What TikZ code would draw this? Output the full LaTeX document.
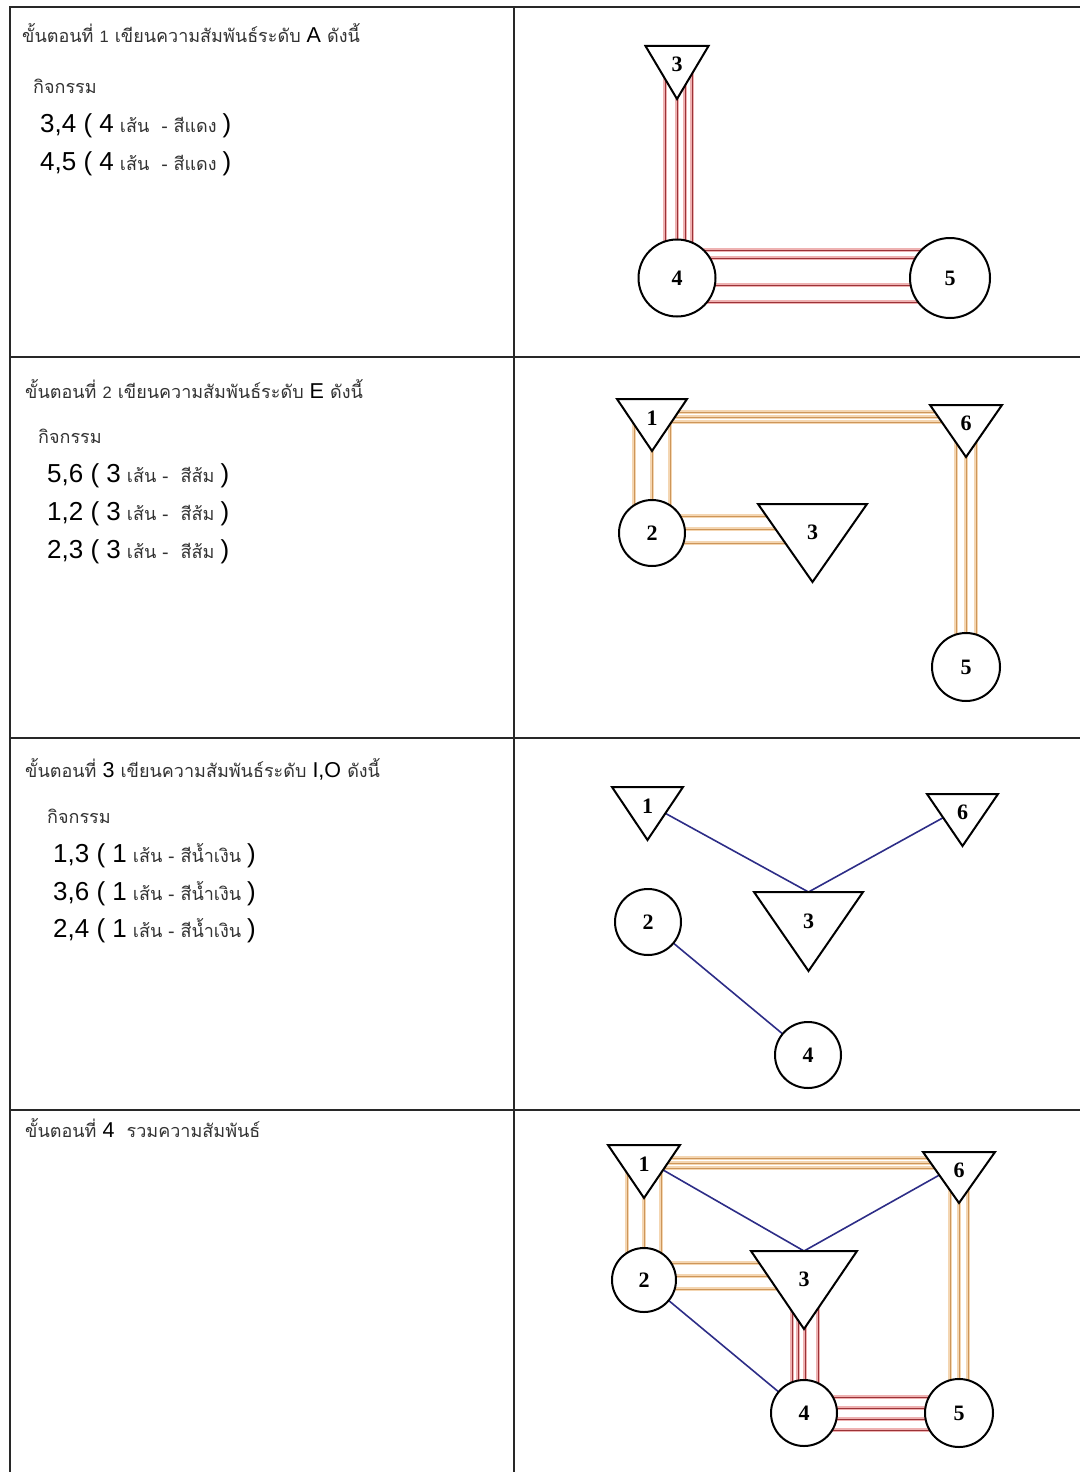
\documentclass[tikz,border=0pt]{standalone}
\usepackage{fontspec}
\setmainfont{Liberation Sans}
\newfontfamily\thaifont[Script=Thai]{Loma}
\newfontfamily\lblfamily{Liberation Serif}
\usetikzlibrary{calc}
\pgfdeclarelayer{bg}
\pgfdeclarelayer{tri}
\pgfsetlayers{bg,tri,main}
\definecolor{redcore}{RGB}{155,50,55}
\definecolor{redhalo}{RGB}{238,178,178}
\definecolor{orcore}{RGB}{205,150,90}
\definecolor{orhalo}{RGB}{244,214,178}
\definecolor{bluel}{RGB}{45,45,135}
\definecolor{framec}{RGB}{40,40,40}
\definecolor{thaic}{RGB}{50,50,50}
\newcommand\thf{\thaifont\fontsize{18}{21}\selectfont\color{thaic}}
\newcommand\lats{\normalfont\fontsize{16.5}{20}\selectfont}
\newcommand\latm{\normalfont\fontsize{21.5}{25}\selectfont\color{black}}
\newcommand\latb{\normalfont\fontsize{26}{30}\selectfont\color{black}}
\newcommand\lblf{\lblfamily\bfseries\fontsize{22}{22}\selectfont}
\newcommand\trishape[1]{\draw[triline] (#1.north west) -- (#1.north east) -- (#1.south) -- cycle;}
\begin{document}
\begin{tikzpicture}[x=1pt,y=-1pt,
  cnode/.style={circle, draw, line width=2pt, fill=white, inner sep=0pt, minimum size=#1pt, font=\lblf},
  tnode/.style n args={3}{rectangle, inner sep=0pt, outer sep=0pt, minimum width=#1pt, minimum height=#2pt, text height=15pt, text depth=#3pt, font=\lblf},
  triline/.style={draw, line width=2pt, fill=white},
  redl/.style={draw=redhalo, line width=1.1pt, double=redcore, double distance=0.9pt},
  orl/.style={draw=orhalo, line width=1.2pt, double=orcore, double distance=0.9pt},
  bll/.style={draw=bluel, line width=1.6pt},
  frame/.style={draw=framec, line width=2pt},
  txt/.style={anchor=base west, inner sep=0pt, font=\thf}]
\useasboundingbox (0,0) rectangle (1080,1472);
% table
\draw[frame] (9,7.5) -- (1080,7.5);
\draw[frame] (9.5,7.5) -- (9.5,1472);
\draw[frame] (514,7.5) -- (514,1472);
\draw[frame] (9,357) -- (1080,357);
\draw[frame] (9,738) -- (1080,738);
\draw[frame] (9,1110) -- (1080,1110);
% texts
\node[txt] (s1) at (22,43) {ขั้นตอนที่ {\lats 1} เขียนความสัมพันธ์ระดับ {\latm A} ดังนี้};
\node[txt] (s1a) at (33,93) {กิจกรรม};
\node[txt] (s1b) at (40,132) {{\latb 3,4 ( 4} เส้น \ - สีแดง {\latb )}};
\node[txt] (s1c) at (40,170) {{\latb 4,5 ( 4} เส้น \ - สีแดง {\latb )}};
\node[txt] (s2) at (25,398) {ขั้นตอนที่ {\lats 2} เขียนความสัมพันธ์ระดับ {\latm E} ดังนี้};
\node[txt] (s2a) at (38,443) {กิจกรรม};
\node[txt] (s2b) at (47,482) {{\latb 5,6 ( 3} เส้น - \ สีส้ม {\latb )}};
\node[txt] (s2c) at (47,520) {{\latb 1,2 ( 3} เส้น - \ สีส้ม {\latb )}};
\node[txt] (s2d) at (47,558) {{\latb 2,3 ( 3} เส้น - \ สีส้ม {\latb )}};
\node[txt] (s3) at (25,777) {ขั้นตอนที่ {\latm 3} เขียนความสัมพันธ์ระดับ {\latm I,O} ดังนี้};
\node[txt] (s3a) at (47,823) {กิจกรรม};
\node[txt] (s3b) at (53,862) {{\latb 1,3 ( 1} เส้น - สีน้ำเงิน {\latb )}};
\node[txt] (s3c) at (53,900) {{\latb 3,6 ( 1} เส้น - สีน้ำเงิน {\latb )}};
\node[txt] (s3d) at (53,937) {{\latb 2,4 ( 1} เส้น - สีน้ำเงิน {\latb )}};
\node[txt] (s4) at (25,1137) {ขั้นตอนที่ {\latm 4} \ รวมความสัมพันธ์};
% panel 1 nodes
\node[tnode={63}{53}{18}] (a3) at (677,72.5) {3};
\node[cnode=77] (a4) at (677,278) {4};
\node[cnode=80] (a5) at (950,278) {5};
% panel 2 nodes
\node[tnode={70}{52}{14}] (b1) at (652,425) {1};
\node[tnode={72}{52}{16}] (b6) at (966,431) {6};
\node[cnode=66] (b2) at (652,533) {2};
\node[tnode={109}{78}{22}] (b3) at (812.5,543) {3};
\node[cnode=68] (b5) at (966,667) {5};
% panel 3 nodes
\node[tnode={71}{53}{16}] (c1) at (647.5,813.5) {1};
\node[tnode={71}{52}{16}] (c6) at (962.5,820) {6};
\node[tnode={109}{79}{22}] (c3) at (808.5,931.5) {3};
\node[cnode=66] (c2) at (648,922) {2};
\node[cnode=66] (c4) at (808,1055) {4};
% panel 4 nodes
\node[tnode={72}{53}{16}] (d1) at (644,1171.5) {1};
\node[tnode={72}{51}{15}] (d6) at (959,1177.5) {6};
\node[tnode={106}{78}{22}] (d3) at (804,1290) {3};
\node[cnode=64] (d2) at (644,1280) {2};
\node[cnode=66] (d4) at (804,1413) {4};
\node[cnode=68] (d5) at (959,1413) {5};
% triangles
\begin{pgfonlayer}{tri}
\trishape{a3}
\trishape{b1}\trishape{b6}\trishape{b3}
\trishape{c1}\trishape{c6}\trishape{c3}
\trishape{d1}\trishape{d6}\trishape{d3}
\end{pgfonlayer}
% connectors
\begin{pgfonlayer}{bg}
% panel 1
\foreach \o in {-12,0,8,15} \draw[redl] ($(a3.north)+(\o,0)$) -- ($(a4.center)+(\o,0)$);
\foreach \o in {-28,-20,7,24} \draw[redl] ($(a4.center)+(0,\o)$) -- ($(a5.center)+(0,\o)$);
% panel 2
\foreach \o in {-13,-8,-3} \draw[orl] ($(b1.center)+(0,\o)$) -- ($(b6.center |- b1.center)+(0,\o)$);
\foreach \o in {-18,0,18} \draw[orl] ($(b1.north)+(\o,0)$) -- ($(b2.center)+(\o,0)$);
\foreach \o in {-17,-4,10} \draw[orl] ($(b2.center)+(0,\o)$) -- ($(b3.center |- b2.center)+(0,\o)$);
\foreach \o in {-10,0,10} \draw[orl] ($(b6.north)+(\o,0)$) -- ($(b5.center)+(\o,0)$);
% panel 3
\draw[bll] ($(c1.center)+(0,-10)$) -- (c3.north);
\draw[bll] ($(c6.center)+(0,-13)$) -- (c3.north);
\draw[bll] (c2.center) -- (c4.center);
% panel 4
\foreach \o in {-13.5,-8.5,-3.5} \draw[orl] ($(d1.center)+(0,\o)$) -- ($(d6.center |- d1.center)+(0,\o)$);
\foreach \o in {-17,0,17} \draw[orl] ($(d1.north)+(\o,0)$) -- ($(d2.center)+(\o,0)$);
\foreach \o in {-17,-4,9} \draw[orl] ($(d2.center)+(0,\o)$) -- ($(d3.center |- d2.center)+(0,\o)$);
\foreach \o in {-9,0,9} \draw[orl] ($(d6.north)+(\o,0)$) -- ($(d5.center)+(\o,0)$);
\foreach \o in {-12,-6,1,14} \draw[redl] ($(d3.north)+(\o,0)$) -- ($(d4.center)+(\o,0)$);
\foreach \o in {-16,-5,6,17} \draw[redl] ($(d4.center)+(0,\o)$) -- ($(d5.center)+(0,\o)$);
\draw[bll] ($(d1.center)+(0,-12.5)$) -- (d3.north);
\draw[bll] ($(d6.center)+(0,-13.5)$) -- (d3.north);
\draw[bll] (d2.center) -- (d4.center);
\end{pgfonlayer}
\end{tikzpicture}
\end{document}
